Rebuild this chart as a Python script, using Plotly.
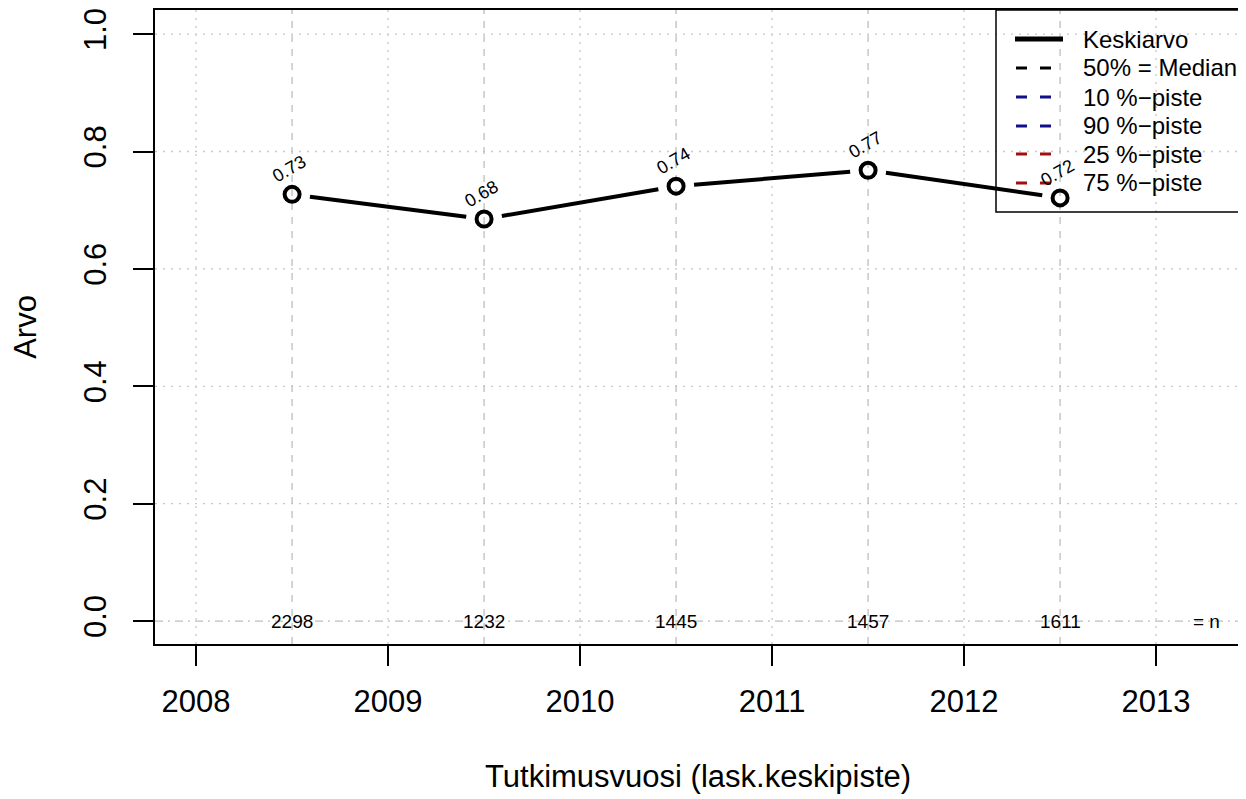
import math
import plotly.graph_objects as go

years = [2008.5, 2009.5, 2010.5, 2011.5, 2012.5]
means = [0.727, 0.685, 0.741, 0.768, 0.721]
value_labels = ["0.73", "0.68", "0.74", "0.77", "0.72"]
n_counts = ["2298", "1232", "1445", "1457", "1611"]
x_ticks = [2008, 2009, 2010, 2011, 2012, 2013]
y_ticks = [0.0, 0.2, 0.4, 0.6, 0.8, 1.0]
legend_names = ["Keskiarvo", "50% = Median", "10 %\u2212piste", "90 %\u2212piste",
                "25 %\u2212piste", "75 %\u2212piste"]
legend_colors = ["black", "black", "#10108C", "#10108C", "#A01010", "#A01010"]

OFF = 8  # page body margin of the html page
W, H = 1246 - OFF, 799 - OFF
L, T, B, R = 155 - OFF, 10 - OFF, 155, 0
PW, PH = W - L - R, H - T - B
XR = [2007.786, 2007.786 + PW / 192.0]
YR = [-0.039, -0.039 + PH / 587.0]
FONT = "Liberation Sans, Arial, sans-serif"

sx = PW / (XR[1] - XR[0])
sy = PH / (YR[1] - YR[0])

# line with gaps around points (R type="b")
gap = 18.0
lx, ly = [], []
for i in range(len(years) - 1):
    x0, y0, x1, y1 = years[i], means[i], years[i + 1], means[i + 1]
    dxp, dyp = (x1 - x0) * sx, (y1 - y0) * sy
    d = math.hypot(dxp, dyp)
    ux, uy = dxp / d, dyp / d
    lx += [x0 + ux * gap / sx, x1 - ux * gap / sx, None]
    ly += [y0 + uy * gap / sy, y1 - uy * gap / sy, None]

fig = go.Figure()
fig.add_trace(go.Scatter(x=lx, y=ly, mode="lines", line=dict(color="black", width=4),
                         showlegend=False, hoverinfo="skip"))
fig.add_trace(go.Scatter(x=years, y=means, mode="markers",
                         marker=dict(symbol="circle-open", size=15, color="black",
                                     line=dict(width=4, color="black")),
                         showlegend=False))

shapes = []
for xv in x_ticks:
    shapes.append(dict(type="line", xref="x", yref="paper", x0=xv, x1=xv, y0=0, y1=1,
                       line=dict(color="#C8C8C8", width=1.3, dash="2px,6px"), layer="below"))
for yv in y_ticks[1:]:
    shapes.append(dict(type="line", xref="paper", yref="y", x0=0, x1=1, y0=yv, y1=yv,
                       line=dict(color="#C8C8C8", width=1.3, dash="2px,6px"), layer="below"))
for xv in years:
    shapes.append(dict(type="line", xref="x", yref="paper", x0=xv, x1=xv, y0=0, y1=1,
                       line=dict(color="#BEBEBE", width=1.3, dash="7px,7px"), layer="below"))
shapes.append(dict(type="line", xref="paper", yref="y", x0=0, x1=1, y0=0, y1=0,
                   line=dict(color="#BEBEBE", width=1.3, dash="8px,5px,2px,5px"), layer="below"))

def px2paper(px, py):
    # px, py are screenshot (page) pixel coordinates
    return (px - OFF - L) / PW, (H - B - (py - OFF)) / PH

bx0, by0 = px2paper(996, 212)
bx1, by1 = px2paper(1260, 10)
shapes.append(dict(type="rect", xref="paper", yref="paper", x0=bx0, y0=by0, x1=bx1, y1=by1,
                   line=dict(color="black", width=1.5), fillcolor="rgba(0,0,0,0)"))

annotations = []
row_y = [39, 68, 97, 126, 154, 183]
for i, (name, col) in enumerate(zip(legend_names, legend_colors)):
    py = row_y[i]
    if i == 0:
        a0, b0 = px2paper(1015, py)
        a1, _ = px2paper(1063, py)
        shapes.append(dict(type="line", xref="paper", yref="paper", x0=a0, x1=a1, y0=b0, y1=b0,
                           line=dict(color=col, width=5)))
    else:
        a0, b0 = px2paper(1016, py)
        a1, _ = px2paper(1064, py)
        shapes.append(dict(type="line", xref="paper", yref="paper", x0=a0, x1=a1, y0=b0, y1=b0,
                           line=dict(color=col, width=3, dash="11px,13px")))
    tx, ty = px2paper(1081, py)
    annotations.append(dict(xref="paper", yref="paper", x=tx, y=ty, text=name, showarrow=False,
                            xanchor="left", yanchor="middle",
                            font=dict(family=FONT, size=24, color="black")))

for xv, yv, t in zip(years, means, value_labels):
    annotations.append(dict(x=xv, y=yv, text=t, showarrow=False, textangle=-30, yshift=25,
                            xshift=-3, font=dict(family=FONT, size=18, color="black")))
for xv, t in zip(years, n_counts):
    annotations.append(dict(x=xv, y=0, text=t, showarrow=False, xanchor="center", yanchor="middle",
                            font=dict(family=FONT, size=19, color="black")))
annotations.append(dict(x=2013.26, y=0, text="= n", showarrow=False, xanchor="center",
                        yanchor="middle", font=dict(family=FONT, size=19, color="black")))

tx, ty = px2paper(698, 776)
annotations.append(dict(xref="paper", yref="paper", x=tx, y=ty,
                        text="Tutkimusvuosi (lask.keskipiste)",
                        showarrow=False, xanchor="center", yanchor="middle",
                        font=dict(family=FONT, size=31, color="black")))

fig.update_layout(
    width=W, height=H, margin=dict(l=L, r=R, t=T, b=B, pad=0),
    plot_bgcolor="white", paper_bgcolor="white",
    shapes=shapes, annotations=annotations, showlegend=False,
    font=dict(family=FONT, size=31, color="black"),
)
fig.update_xaxes(range=XR, tickmode="array", tickvals=x_ticks, ticktext=[str(v) for v in x_ticks],
                 ticks="outside", ticklen=20, tickwidth=2, tickcolor="black",
                 showline=True, linecolor="black", linewidth=2, mirror=True,
                 showgrid=False, zeroline=False, ticklabelstandoff=9,
                 tickfont=dict(family=FONT, size=31, color="black"))
fig.update_yaxes(range=YR, tickmode="array", tickvals=y_ticks, ticktext=[f"{v:.1f}" for v in y_ticks],
                 ticks="outside", ticklen=20, tickwidth=2, tickcolor="black", tickangle=-90,
                 showline=True, linecolor="black", linewidth=2, mirror=False,
                 showgrid=False, zeroline=False, ticklabelstandoff=15,
                 ticklabeloverflow="allow",
                 title=dict(text="Arvo", standoff=40, font=dict(family=FONT, size=31, color="black")),
                 tickfont=dict(family=FONT, size=31, color="black"))

fig.write_html("out.html")
